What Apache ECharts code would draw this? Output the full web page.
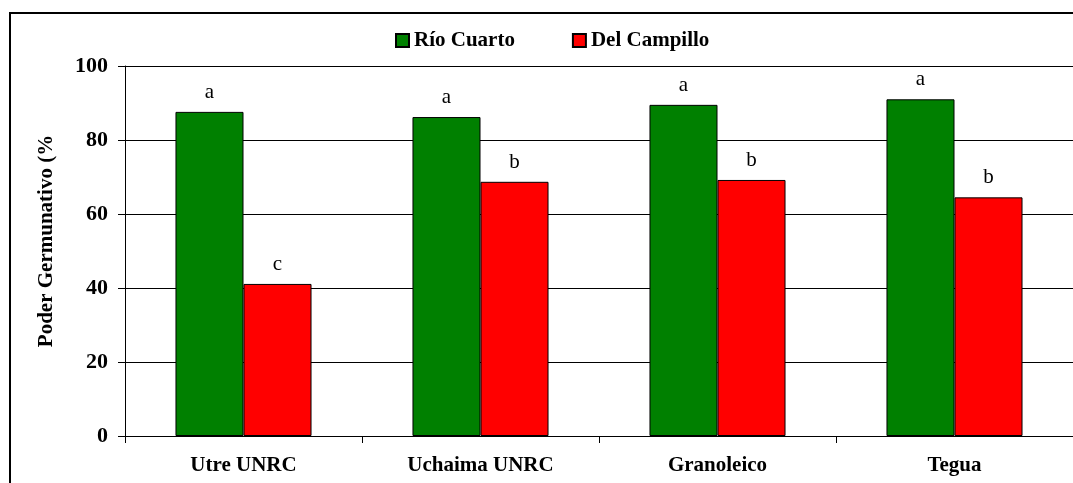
<!DOCTYPE html>
<html>
<head>
<meta charset="utf-8">
<script src="https://cdn.jsdelivr.net/npm/echarts@6/dist/echarts.min.js"></script>
<style>
html,body{margin:0;padding:0;background:#fff;}
#c{width:1073px;height:483px;}
</style>
</head>
<body>
<div id="c"></div>
<script>
const categories = ['Utre UNRC', 'Uchaima UNRC', 'Granoleico', 'Tegua'];
const rioCuarto = [87.6, 86.2, 89.5, 91.0];
const delCampillo = [41.1, 68.7, 69.2, 64.5];
const rioLetters = ['a', 'a', 'a', 'a'];
const delLetters = ['c', 'b', 'b', 'b'];
const yTicks = [0, 20, 40, 60, 80, 100];

const FONT = '"Liberation Serif", "Times New Roman", serif';
const chart = echarts.init(document.getElementById('c'));

function labelFor(letters) {
  return {
    show: true,
    position: 'top',
    distance: 9,
    fontFamily: FONT,
    fontSize: 21,
    color: '#000',
    formatter: p => letters[p.dataIndex]
  };
}

chart.setOption({
  animation: false,
  textStyle: { fontFamily: FONT },
  graphic: [
    { type: 'rect', shape: { x: 10, y: 13, width: 1100, height: 500 },
      style: { fill: 'none', stroke: '#000', lineWidth: 2 }, silent: true, z: 100 },
    { type: 'text', x: 47, y: 241, rotation: Math.PI / 2,
      style: { text: 'Poder Germunativo (%', fontFamily: FONT, fontSize: 21, fontWeight: 'bold',
               fill: '#000', align: 'center', verticalAlign: 'middle' } }
  ],
  legend: {
    top: 25, left: 390,
    itemWidth: 13, itemHeight: 13, itemGap: 57,
    icon: 'rect',
    textStyle: { fontFamily: FONT, fontSize: 21, fontWeight: 'bold', color: '#000' },
    data: ['Río Cuarto', 'Del Campillo']
  },
  grid: { left: 125, right: 0, top: 66, bottom: 47 },
  xAxis: {
    type: 'category',
    data: categories,
    axisLine: { lineStyle: { color: '#000', width: 1 } },
    axisTick: { show: true, length: 7, lineStyle: { color: '#000' } },
    axisLabel: { fontFamily: FONT, fontSize: 21, fontWeight: 'bold', color: '#000', margin: 19 }
  },
  yAxis: {
    type: 'value',
    min: yTicks[0], max: yTicks[yTicks.length - 1], interval: 20,
    axisLine: { show: true, lineStyle: { color: '#000', width: 1 } },
    axisTick: { show: true, length: 7, lineStyle: { color: '#000' } },
    splitLine: { show: true, lineStyle: { color: '#000', width: 1 } },
    axisLabel: { fontFamily: FONT, fontSize: 22, fontWeight: 'bold', color: '#000', margin: 17 }
  },
  series: [
    {
      name: 'Río Cuarto', type: 'bar', data: rioCuarto,
      barGap: '0%', barCategoryGap: '42.6%',
      itemStyle: { color: '#008000', borderColor: '#000', borderWidth: 1 },
      label: labelFor(rioLetters)
    },
    {
      name: 'Del Campillo', type: 'bar', data: delCampillo,
      itemStyle: { color: '#FF0000', borderColor: '#000', borderWidth: 1 },
      label: labelFor(delLetters)
    }
  ]
});
</script>
</body>
</html>
